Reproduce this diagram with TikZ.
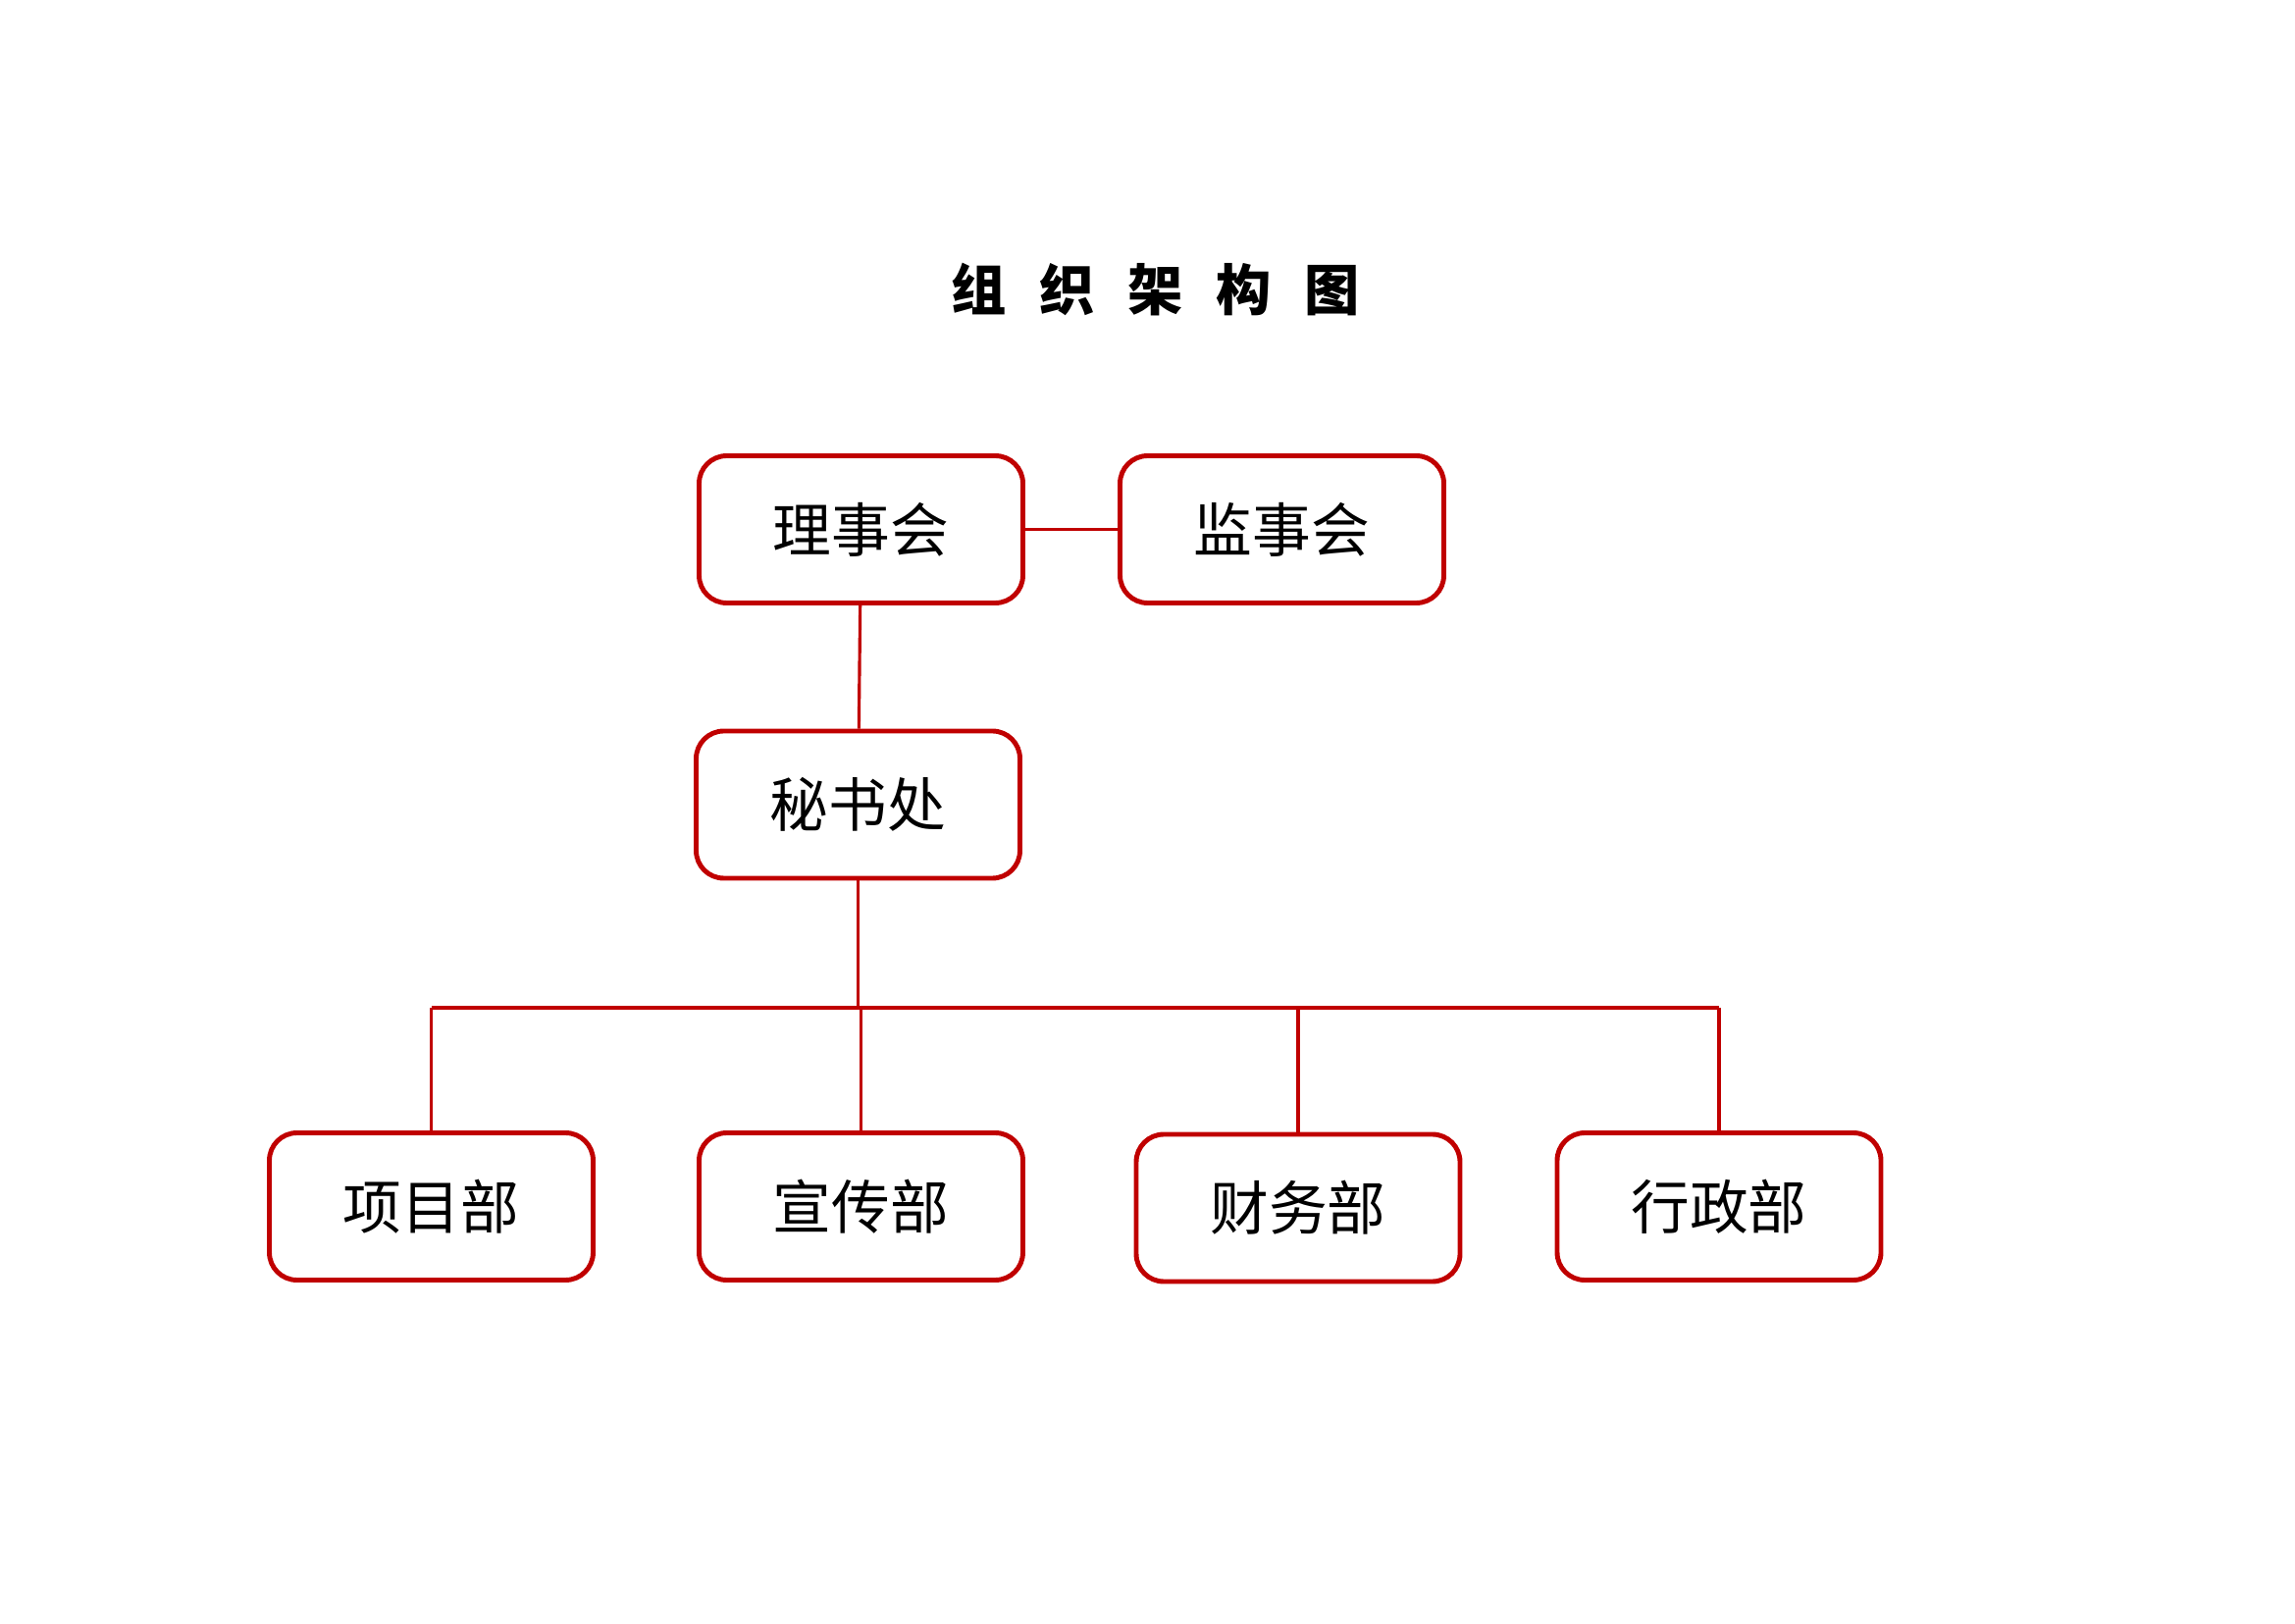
\documentclass[tikz,border=0pt]{standalone}
\usepackage{fontspec}
\setmainfont{Noto Sans CJK SC}
\usepackage{tikz}
\usetikzlibrary{positioning}
\definecolor{orgred}{HTML}{C00000}

\begin{document}
\begin{tikzpicture}[
    unit/.style={draw=orgred, line width=1.4pt, rounded corners=8pt, minimum width=3.3cm, minimum height=1.5cm, font=\fontsize{17}{20}\selectfont},
    link/.style={draw=orgred, line width=0.9pt}
]
\useasboundingbox (0,0) rectangle (23.39,16.54);
\node[font=\fontsize{16}{19}\selectfont\bfseries] (title) at (11.775,13.59) {组\hspace{0.6em}织\hspace{0.6em}架\hspace{0.6em}构\hspace{0.6em}图};
\node[unit] (board) at (8.775,11.145) {理事会};
\node[unit] (super) at (13.065,11.145) {监事会};
\node[unit] (sec) at (8.745,8.34) {秘书处};
\node[unit] (proj) at (4.395,4.245) {项目部};
\node[unit] (pub) at (8.775,4.245) {宣传部};
\node[unit] (fin) at (13.23,4.23) {财务部};
\node[unit] (admin) at (17.52,4.245) {行政部};
\coordinate (barL) at (4.395,6.27);
\coordinate (barR) at (17.52,6.27);
\draw[link] (board) -- (super);
\draw[link] (board) -- (sec);
\draw[link] (sec) -- (sec.south |- barL);
\draw[link] (barL) -- (barR);
\draw[link] (barL) -- (proj);
\draw[link] (pub.north |- barL) -- (pub);
\draw[link] (fin.north |- barL) -- (fin);
\draw[link] (barR) -- (admin);
\end{tikzpicture}
\end{document}
